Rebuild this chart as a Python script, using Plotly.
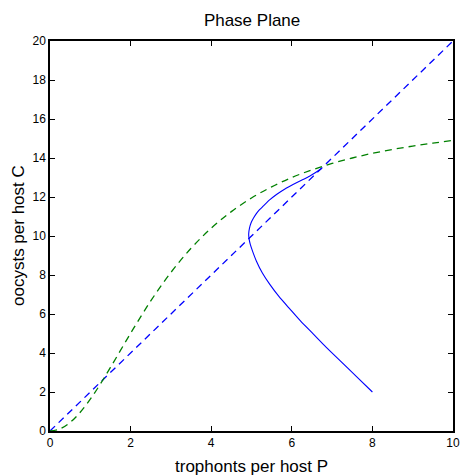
import plotly.graph_objects as go

# Nullcline C = 2P (blue dashed)
line_p = [0, 10]
line_c = [0, 20]

# Nullcline (green dashed)
green_p = [0, 0.25, 0.5, 0.75, 1.0, 1.25, 1.5, 2.0, 2.5, 3.0, 3.5, 4.0, 4.5,
           5.0, 5.5, 6.0, 6.5, 7.0, 7.5, 8.0, 8.5, 9.0, 9.5, 10.0]
green_c = [0, 0.11, 0.44, 0.96, 1.63, 2.41, 3.26, 5.01, 6.67, 8.13, 9.37, 10.40,
           11.25, 11.95, 12.52, 13.00, 13.39, 13.72, 14.00, 14.24, 14.44, 14.61,
           14.76, 14.90]

# Trajectory (blue solid)
traj_p = [8.0, 7.6, 7.19, 6.85, 6.53, 6.22, 5.95, 5.68, 5.45, 5.27, 5.12, 5.03,
          4.97, 4.94, 4.93, 4.95, 4.99, 5.05, 5.12, 5.20, 5.29, 5.45, 5.62, 5.82,
          6.03, 6.24, 6.44, 6.60, 6.73]
traj_c = [2.0, 2.8, 3.62, 4.3, 4.98, 5.63, 6.26, 6.9, 7.53, 8.1, 8.72, 9.2,
          9.57, 9.85, 10.1, 10.4, 10.68, 10.92, 11.15, 11.35, 11.53, 11.85, 12.13,
          12.4, 12.64, 12.86, 13.06, 13.27, 13.45]

x_ticks = [0, 2, 4, 6, 8, 10]
y_ticks = list(range(0, 21, 2))

FONT = "Liberation Sans, Arial, Helvetica, sans-serif"

fig = go.Figure()
fig.add_trace(go.Scatter(x=line_p, y=line_c, mode="lines",
                         line=dict(color="#0000ff", width=1.3, dash="7px,5px")))
fig.add_trace(go.Scatter(x=green_p, y=green_c, mode="lines",
                         line=dict(color="#008000", width=1.3, dash="7px,5px", shape="spline")))
fig.add_trace(go.Scatter(x=traj_p, y=traj_c, mode="lines",
                         line=dict(color="#0000ff", width=1.1, shape="spline", smoothing=0.6)))

axis_common = dict(
    showgrid=False, zeroline=False, showline=True, linecolor="black", linewidth=1.5,
    mirror="allticks", ticks="inside", ticklen=5, tickcolor="black", tickwidth=1,
    tickfont=dict(family=FONT, size=12, color="black"), automargin=False,
)

fig.update_layout(
    width=460, height=475,
    margin=dict(l=50, r=7, t=41, b=44),
    paper_bgcolor="white", plot_bgcolor="white",
    showlegend=False,
    title=dict(text="Phase Plane", x=0.548, xanchor="center", y=1 - 20 / 475,
               yanchor="middle", yref="container",
               font=dict(family=FONT, size=17, color="black")),
    xaxis=dict(range=[0, 10], tickvals=x_ticks, **axis_common),
    yaxis=dict(range=[0, 20], tickvals=y_ticks, **axis_common),
    annotations=[
        dict(text="trophonts per host P", xref="paper", yref="paper", x=0.5, y=0,
             xanchor="center", yanchor="middle", yshift=-35, showarrow=False,
             font=dict(family=FONT, size=17, color="black")),
        dict(text="oocysts per host C", xref="paper", yref="paper", x=0, y=0.5,
             xanchor="center", yanchor="middle", xshift=-32, textangle=-90,
             showarrow=False, font=dict(family=FONT, size=17, color="black")),
    ],
)

fig.write_html("out.html", config={"displayModeBar": False},
               post_script="document.body.style.margin='0';document.body.style.overflow='hidden';")
